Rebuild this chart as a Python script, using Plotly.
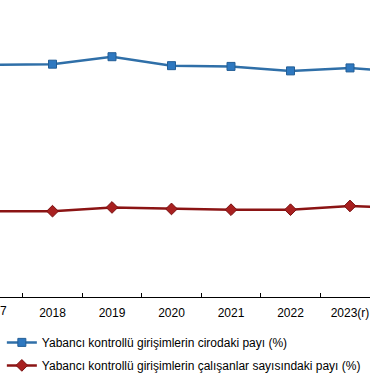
import plotly.graph_objects as go

years = ["2017", "2018", "2019", "2020", "2021", "2022", "2023(r)", "2024"]
ciro_payi = [31.3, 31.4, 32.4, 31.2, 31.1, 30.5, 30.9, 30.3]
calisan_payi = [11.7, 11.7, 12.2, 12.0, 11.9, 11.9, 12.4, 12.1]
name_ciro = "Yabancı kontrollü girişimlerin cirodaki payı (%)"
name_calisan = "Yabancı kontrollü girişimlerin çalışanlar sayısındaki payı (%)"

fig = go.Figure()
fig.add_trace(go.Scatter(
    x=years, y=ciro_payi, name=name_ciro, mode="lines+markers", legendgroup="a",
    line=dict(color="#2F6FA8", width=2.5),
    marker=dict(symbol="square", size=8, color="#2E78C0", line=dict(color="#235E96", width=1)),
))
fig.add_trace(go.Scatter(
    x=years, y=calisan_payi, name=name_calisan, mode="lines+markers", legendgroup="b",
    line=dict(color="#8B1414", width=2.5),
    marker=dict(symbol="diamond", size=9, color="#A82020", line=dict(color="#7A1010", width=1)),
))

step = 59.5
x0 = -7.0
W = 370
rng = [(0 - x0) / step, (W - x0) / step]

fig.update_layout(
    width=370, height=380,
    margin=dict(l=0, r=0, t=0, b=79),
    paper_bgcolor="white", plot_bgcolor="white",
    font=dict(family="Liberation Sans, Arial, sans-serif", size=12, color="#000000"),
    showlegend=True,
    legend=dict(
        orientation="v", x=0.005, y=-0.104, xanchor="left", yanchor="top",
        font=dict(size=12, color="#000000"), itemwidth=30, tracegroupgap=4,
        bgcolor="rgba(0,0,0,0)",
    ),
    xaxis=dict(
        type="category", range=rng, showgrid=False, showline=True,
        linecolor="#000000", linewidth=1, ticks="inside", ticklen=4,
        tickcolor="#000000", tickson="boundaries", tickfont=dict(size=12),
        ticklabelstandoff=5, zeroline=False,
    ),
    yaxis=dict(range=[0.2, 40], visible=False, showgrid=False, zeroline=False),
    annotations=[dict(
        text=years[0], x=x0 / W, xref="paper", y=0, yref="paper",
        yshift=-14, showarrow=False, xanchor="center", yanchor="middle",
        font=dict(size=12, color="#000000"),
    )],
)

fig.write_html("out.html", config={"displayModeBar": False},
               post_script="document.body.style.margin='0';")
